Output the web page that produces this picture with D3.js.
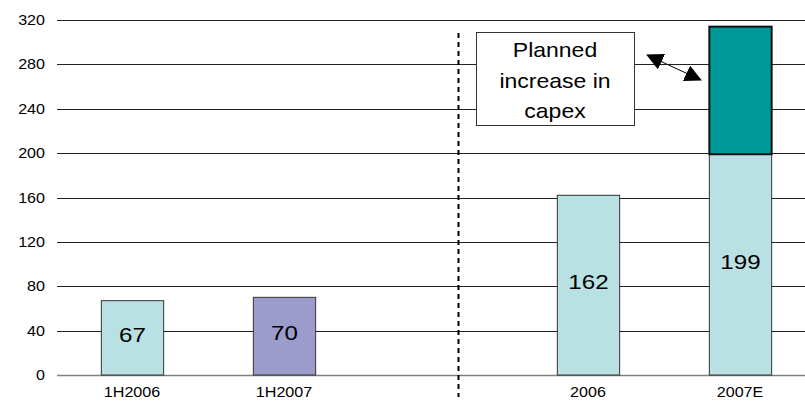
<!DOCTYPE html>
<html>
<head>
<meta charset="utf-8">
<script src="https://cdn.jsdelivr.net/npm/d3@7"></script>
<style>
  body { margin: 0; background: #fff; }
  text { font-family: Arial, "Liberation Sans", sans-serif; fill: #000; }
</style>
</head>
<body>
<div id="chart"></div>
<script>
// chart data
var categories = ["1H2006", "1H2007", "", "2006", "2007E"];
var baseValues = [67, 70, null, 162, 199];
var planned = [null, null, null, null, 115];
var baseColors = ["#b9e0e3", "#9c9ccc", null, "#b9e0e3", "#b9e0e3"];
var yTicks = [0, 40, 80, 120, 160, 200, 240, 280, 320];
var noteLines = ["Planned", "increase in", "capex"];

var W = 805, H = 405;
var sx = 1.15; // text in the original is a bit wide

var svg = d3.select("#chart").append("svg")
    .attr("width", W)
    .attr("height", H);

var y = d3.scaleLinear().domain([0, 320]).range([375, 20]);
var x = d3.scaleBand().domain(d3.range(categories.length))
    .range([56, 816])
    .paddingInner(0.59)
    .paddingOuter(0.295);

function place(px, py) {
  return "translate(" + px + "," + py + ") scale(" + sx + ",1)";
}

// gridlines
svg.append("g").selectAll("line")
  .data(yTicks)
  .enter().append("line")
    .attr("x1", 57).attr("x2", W)
    .attr("y1", function (d) { return Math.round(y(d)) + 0.5; })
    .attr("y2", function (d) { return Math.round(y(d)) + 0.5; })
    .attr("stroke", function (d) { return d == 0 ? "#808080" : "#222"; })
    .attr("stroke-width", function (d) { return d == 0 ? 1.5 : 1; });

// y labels
svg.append("g").selectAll("text")
  .data(yTicks)
  .enter().append("text")
    .attr("transform", function (d) { return place(45, y(d) + 5); })
    .attr("text-anchor", "end")
    .style("font-size", "14px")
    .text(function (d) { return d; });

// x labels
svg.append("g").selectAll("text")
  .data(categories)
  .enter().append("text")
    .attr("transform", function (d, i) { return place(x(i) + x.bandwidth() / 2, 397); })
    .attr("text-anchor", "middle")
    .style("font-size", "14px")
    .text(function (d) { return d; });

var idx = d3.range(categories.length).filter(function (i) { return baseValues[i] != null; });

// base bars
svg.append("g").selectAll("rect")
  .data(idx)
  .enter().append("rect")
    .attr("x", function (i) { return x(i) + 0.5; })
    .attr("y", function (i) { return y(baseValues[i]); })
    .attr("width", x.bandwidth())
    .attr("height", function (i) { return y(0) - y(baseValues[i]); })
    .attr("fill", function (i) { return baseColors[i]; })
    .attr("stroke", "#333")
    .attr("stroke-width", 1);

// planned increase on top
var pIdx = idx.filter(function (i) { return planned[i] != null; });
svg.append("g").selectAll("rect")
  .data(pIdx)
  .enter().append("rect")
    .attr("x", function (i) { return x(i) + 0.5; })
    .attr("y", function (i) { return y(baseValues[i] + planned[i]); })
    .attr("width", x.bandwidth())
    .attr("height", function (i) { return y(baseValues[i]) - y(baseValues[i] + planned[i]); })
    .attr("fill", "#009999")
    .attr("stroke", "#111")
    .attr("stroke-width", 2);

// value labels
svg.append("g").selectAll("text")
  .data(idx)
  .enter().append("text")
    .attr("transform", function (i) {
      return place(x(i) + x.bandwidth() / 2 + 0.5, (y(0) + y(baseValues[i])) / 2 + 4);
    })
    .attr("text-anchor", "middle")
    .style("font-size", "21px")
    .text(function (i) { return baseValues[i]; });

// dashed divider
var divX = 458.5;
svg.append("line")
    .attr("x1", divX).attr("x2", divX)
    .attr("y1", 33).attr("y2", 397)
    .attr("stroke", "#000")
    .attr("stroke-width", 2)
    .attr("stroke-dasharray", "5,4");

// note box
svg.append("rect")
    .attr("x", 476.5).attr("y", 32.5)
    .attr("width", 158).attr("height", 93)
    .attr("fill", "#fff")
    .attr("stroke", "#333");

var noteY = [57, 88, 118];
svg.append("g").selectAll("text")
  .data(noteLines)
  .enter().append("text")
    .attr("transform", function (d, i) { return place(555, noteY[i]); })
    .attr("text-anchor", "middle")
    .style("font-size", "20px")
    .text(function (d) { return d; });

// double headed arrow
var defs = svg.append("defs");
defs.append("marker")
    .attr("id", "tri")
    .attr("viewBox", "0 0 10 10")
    .attr("refX", 1).attr("refY", 5)
    .attr("markerWidth", 17).attr("markerHeight", 17)
    .attr("markerUnits", "userSpaceOnUse")
    .attr("orient", "auto-start-reverse")
  .append("path")
    .attr("d", "M0,0 L10,5 L0,10 Z")
    .attr("fill", "#000");

svg.append("line")
    .attr("x1", 660).attr("y1", 61)
    .attr("x2", 688).attr("y2", 74)
    .attr("stroke", "#000")
    .attr("stroke-width", 1)
    .attr("marker-start", "url(#tri)")
    .attr("marker-end", "url(#tri)");
</script>
</body>
</html>
